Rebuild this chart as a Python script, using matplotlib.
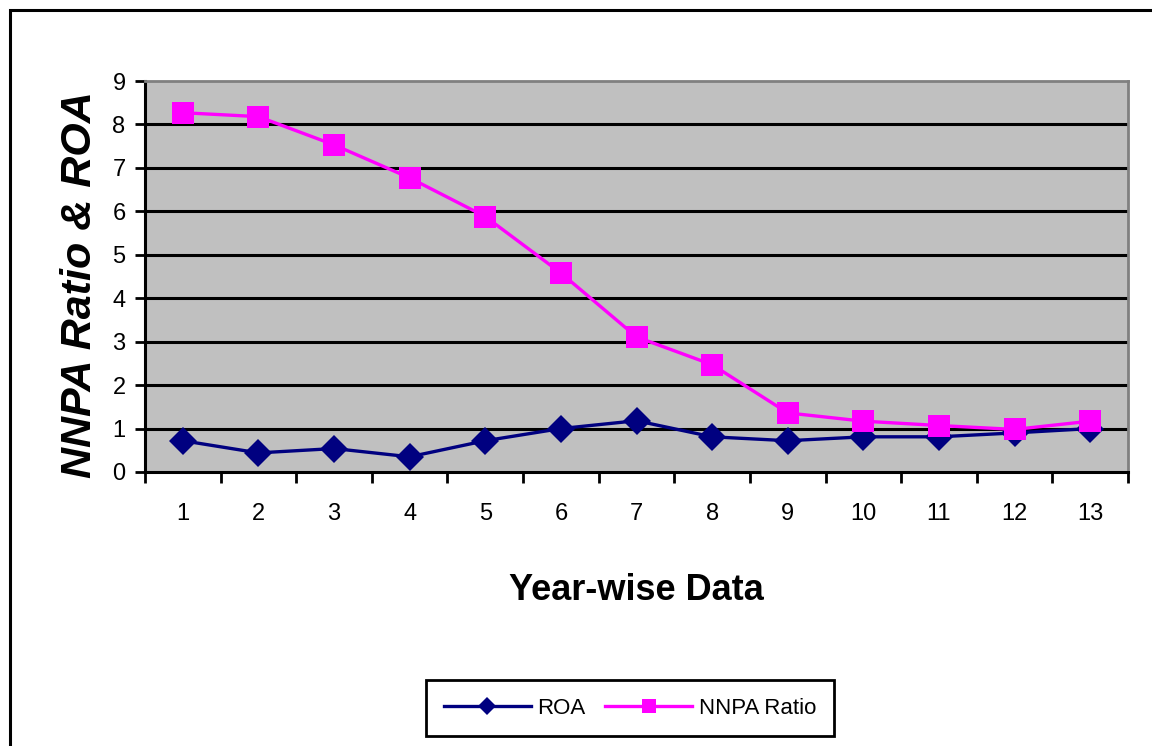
import numpy as np
import matplotlib
matplotlib.use("Agg")
import matplotlib.pyplot as plt
from matplotlib.patches import Rectangle
from matplotlib.ticker import MultipleLocator, FixedLocator

plt.rcParams['font.family'] = ['Liberation Sans', 'DejaVu Sans']

years = [1, 2, 3, 4, 5, 6, 7, 8, 9, 10, 11, 12, 13]
roa = [0.72, 0.44, 0.54, 0.35, 0.72, 1.0, 1.18, 0.81, 0.72, 0.81, 0.81, 0.9, 1.0]
nnpa = [8.27, 8.18, 7.53, 6.77, 5.88, 4.58, 3.11, 2.47, 1.36, 1.17, 1.07, 0.98, 1.17]

fig = plt.figure(figsize=(11.52, 7.46), dpi=100)
ax = fig.add_axes([145/1152, 1 - 472/746, (1128 - 145)/1152, (472 - 81)/746])
ax.set_facecolor('#C0C0C0')

# gridlines
for v in range(1, 9):
    ax.axhline(v, color='black', lw=2.2, zorder=1)

l1, = ax.plot(years, roa, color='#000080', lw=2.4, marker='D', markersize=14,
              markeredgewidth=0, label='ROA', zorder=3, clip_on=False)
l2, = ax.plot(years, nnpa, color='#FF00FF', lw=2.4, marker='s', markersize=16,
              markeredgewidth=0, label='NNPA Ratio', zorder=4, clip_on=False)

ax.set_xlim(0.5, 13.5)
ax.set_ylim(0, 9)
ax.yaxis.set_major_locator(MultipleLocator(1))
ax.xaxis.set_major_locator(FixedLocator(years))
ax.xaxis.set_minor_locator(FixedLocator(np.arange(0.5, 14, 1)))
ax.tick_params(axis='x', which='major', length=0, pad=22, labelsize=17)
ax.tick_params(axis='x', which='minor', length=8, width=2, direction='out', color='black')
ax.tick_params(axis='y', which='major', length=7, width=2, direction='out', pad=7, labelsize=17)

for s in ['left', 'bottom']:
    ax.spines[s].set_color('black')
    ax.spines[s].set_linewidth(2.2)
for s in ['top', 'right']:
    ax.spines[s].set_color('#808080')
    ax.spines[s].set_linewidth(2)

fig.text(80/1152, 1 - 285/746, 'NNPA Ratio & ROA', rotation=90, ha='center', va='center',
         fontsize=31, fontweight='bold', fontstyle='italic')
fig.text(636/1152, 1 - 590/746, 'Year-wise Data', ha='center', va='center',
         fontsize=26, fontweight='bold')

leg = fig.legend(handles=[l1, l2], loc='center', bbox_to_anchor=(630/1152, 1 - 708/746),
                 ncol=2, fancybox=False, edgecolor='black', framealpha=1, fontsize=16,
                 handlelength=3.9, markerscale=0.62, columnspacing=0.9, handletextpad=0.3,
                 borderpad=0.8)
leg.get_frame().set_linewidth(2)

fig.add_artist(Rectangle((10/1152, -0.1), 1.2, 1 - 10/746 + 0.1, transform=fig.transFigure,
                         fill=False, edgecolor='black', lw=2.2, clip_on=False))

fig.savefig('out.png', dpi=100)
